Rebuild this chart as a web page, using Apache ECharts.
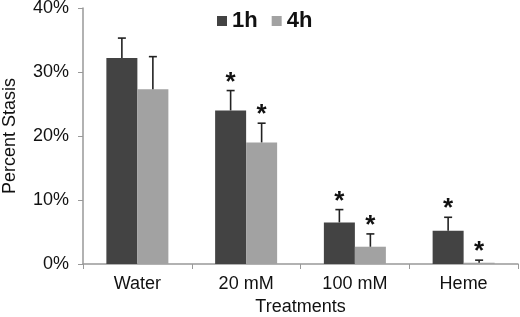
<!DOCTYPE html>
<html>
<head>
<meta charset="utf-8">
<script src="https://cdn.jsdelivr.net/npm/echarts@6/dist/echarts.min.js"></script>
<style>
  html, body { margin: 0; padding: 0; background: #fff; }
  #chart { width: 520px; height: 317px; }
</style>
</head>
<body>
<div id="chart"></div>
<script>
const categories = ['Water', '20 mM', '100 mM', 'Heme'];
const stasis1h = [32.2, 24.0, 6.5, 5.2];
const stasis4h = [27.3, 19.0, 2.7, 0.2];
const err1h = [3.1, 3.1, 2.0, 2.1];
const err4h = [5.1, 3.0, 2.0, 0.4];
const star1h = [false, true, true, true];
const star4h = [false, true, true, true];

const BAR_W = 31;
const fontFamily = '"Liberation Sans", Arial, sans-serif';

function errorSeries(name, values, errors, stars, offset) {
  return {
    type: 'custom',
    name: name + ' err',
    z: 5,
    data: values.map((v, i) => [i, v, v + errors[i], stars[i] ? 1 : 0]),
    renderItem: function (params, api) {
      const base = api.coord([api.value(0), api.value(1)]);
      const top = api.coord([api.value(0), api.value(2)]);
      const x = base[0] + offset;
      const children = [
        {
          type: 'line',
          shape: { x1: x, y1: base[1], x2: x, y2: top[1] },
          style: { stroke: '#222', lineWidth: 1.6 }
        },
        {
          type: 'line',
          shape: { x1: x - 4, y1: top[1], x2: x + 4, y2: top[1] },
          style: { stroke: '#222', lineWidth: 1.6 }
        }
      ];
      if (api.value(3)) {
        children.push({
          type: 'text',
          style: {
            text: '*',
            x: x,
            y: top[1] - 8,
            align: 'center',
            verticalAlign: 'middle',
            font: 'bold 26px ' + fontFamily,
            fill: '#111'
          }
        });
      }
      return { type: 'group', children: children };
    },
    silent: true,
    tooltip: { show: false }
  };
}

const chart = echarts.init(document.getElementById('chart'));

chart.setOption({
  animation: false,
  textStyle: { fontFamily: fontFamily },
  grid: { left: 83, right: 2, top: 8, bottom: 53, outerBoundsMode: 'none', containLabel: false },
  legend: {
    data: ['1h', '4h'],
    left: 212,
    top: 5,
    itemWidth: 10,
    itemHeight: 10,
    itemGap: 14,
    icon: 'rect',
    textStyle: { fontSize: 22, fontWeight: 'bold', color: '#111', fontFamily: fontFamily }
  },
  xAxis: {
    type: 'category',
    data: categories,
    name: 'Treatments',
    nameLocation: 'center',
    nameGap: 30,
    nameTextStyle: { fontSize: 18, color: '#111' },
    axisLine: { lineStyle: { color: '#999', width: 1.5 } },
    axisTick: { show: true, length: 5, lineStyle: { color: '#999' } },
    axisLabel: { fontSize: 18, color: '#111', margin: 11 }
  },
  yAxis: {
    type: 'value',
    min: 0,
    max: 40,
    interval: 10,
    name: 'Percent Stasis',
    nameLocation: 'center',
    nameRotate: 90,
    nameGap: 64,
    nameTextStyle: { fontSize: 18, color: '#111' },
    axisLine: { show: true, lineStyle: { color: '#999', width: 1.5 } },
    axisTick: { show: true, length: 5, lineStyle: { color: '#999' } },
    splitLine: { show: false },
    axisLabel: { fontSize: 18, color: '#111', margin: 14, formatter: '{value}%' }
  },
  series: [
    {
      name: '1h',
      type: 'bar',
      data: stasis1h,
      barWidth: BAR_W,
      barGap: '0%',
      itemStyle: { color: '#434343' }
    },
    {
      name: '4h',
      type: 'bar',
      data: stasis4h,
      barWidth: BAR_W,
      itemStyle: { color: '#a2a2a2' }
    },
    errorSeries('1h', stasis1h, err1h, star1h, -BAR_W / 2),
    errorSeries('4h', stasis4h, err4h, star4h, BAR_W / 2)
  ]
});
</script>
</body>
</html>
